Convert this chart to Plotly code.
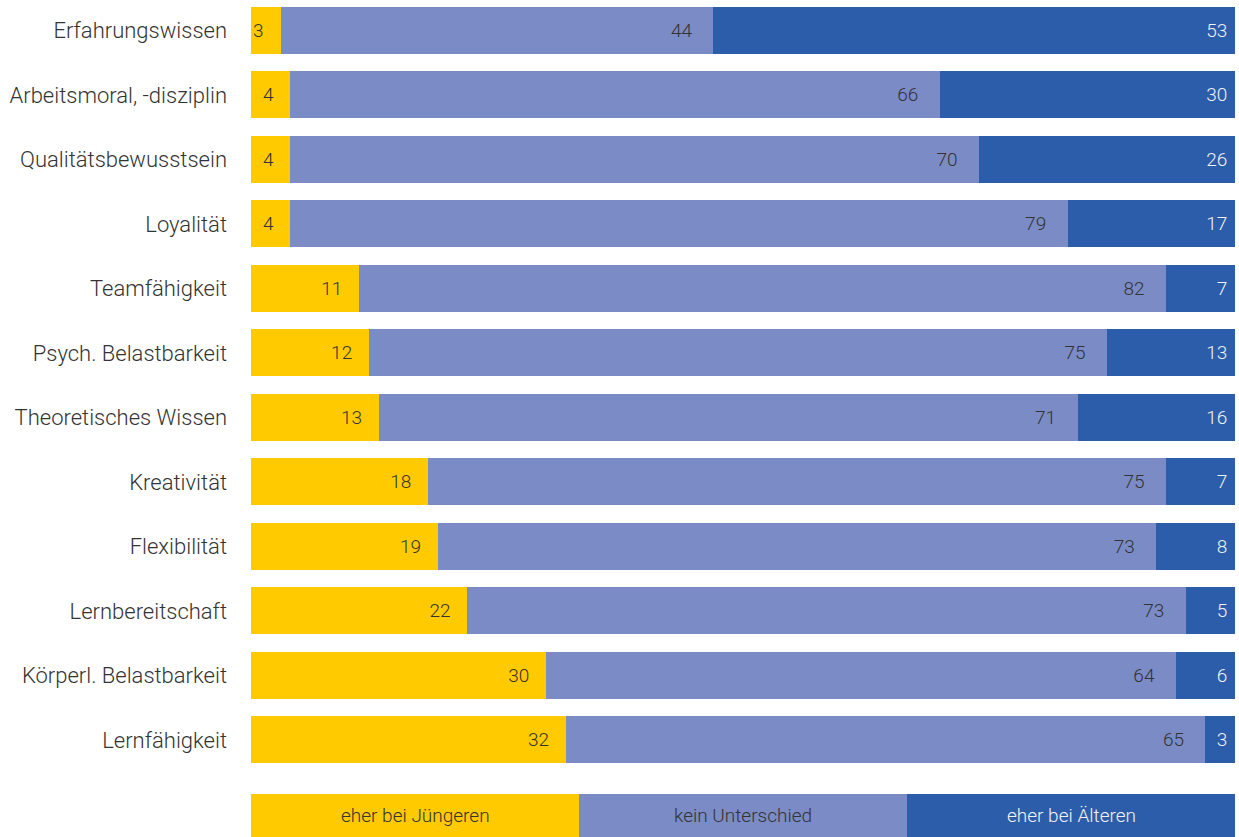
import plotly.graph_objects as go

categories = [
    "Erfahrungswissen", "Arbeitsmoral, -disziplin", "Qualitätsbewusstsein",
    "Loyalität", "Teamfähigkeit", "Psych. Belastbarkeit", "Theoretisches Wissen",
    "Kreativität", "Flexibilität", "Lernbereitschaft", "Körperl. Belastbarkeit",
    "Lernfähigkeit",
]
juengere = [3, 4, 4, 4, 11, 12, 13, 18, 19, 22, 30, 32]
kein_unterschied = [44, 66, 70, 79, 82, 75, 71, 75, 73, 73, 64, 65]
aeltere = [53, 30, 26, 17, 7, 13, 16, 7, 8, 5, 6, 3]

series_names = ["eher bei Jüngeren", "kein Unterschied", "eher bei Älteren"]
colors = ["#FFCA00", "#7B8BC6", "#2B5DAA"]
text_colors = ["#333333", "#333333", "#F2F2F2"]
# extra right padding of the value labels (non-breaking spaces)
pads = [3, 4, 1]

font = "Roboto"

fig = go.Figure()
for name, vals, col, tcol, pad in zip(series_names, [juengere, kein_unterschied, aeltere],
                                      colors, text_colors, pads):
    fig.add_trace(go.Bar(
        y=categories,
        x=vals,
        name=name,
        orientation="h",
        marker=dict(color=col, line=dict(width=0)),
        text=[str(v) + "\u00a0" * pad for v in vals],
        textposition="inside",
        insidetextanchor="end",
        textangle=0,
        constraintext="none",
        textfont=dict(family=font, size=19, color=tcol, weight=300),
        hoverinfo="x+y+name",
    ))

# custom legend row below the bars
shapes = []
annotations = []
for i, (name, col, tcol) in enumerate(zip(series_names, colors, text_colors)):
    x0 = i / 3
    x1 = (i + 1) / 3
    shapes.append(dict(type="rect", xref="paper", yref="paper",
                       x0=x0, x1=x1, y0=-0.082, y1=-0.026,
                       fillcolor=col, line=dict(width=0)))
    annotations.append(dict(xref="paper", yref="paper", x=(x0 + x1) / 2, y=-0.054,
                            xanchor="center", yanchor="middle",
                            text=name, showarrow=False,
                            font=dict(family=font, size=19, color=tcol, weight=300)))

fig.update_layout(
    barmode="stack",
    bargap=0.27,
    width=1239,
    height=837,
    margin=dict(l=251, r=4, t=0, b=63),
    plot_bgcolor="white",
    paper_bgcolor="white",
    showlegend=False,
    font=dict(family=font, color="#333333"),
    shapes=shapes,
    annotations=annotations,
    xaxis=dict(range=[0, 100], visible=False, fixedrange=True),
    yaxis=dict(range=[11.53, -0.47], showgrid=False, ticks="",
               tickfont=dict(family=font, size=22, color="#333333", weight=300),
               ticklabelstandoff=23, fixedrange=True),
)

fig.write_html("out.html", config={"displayModeBar": False},
               post_script="document.body.style.margin='0';")
